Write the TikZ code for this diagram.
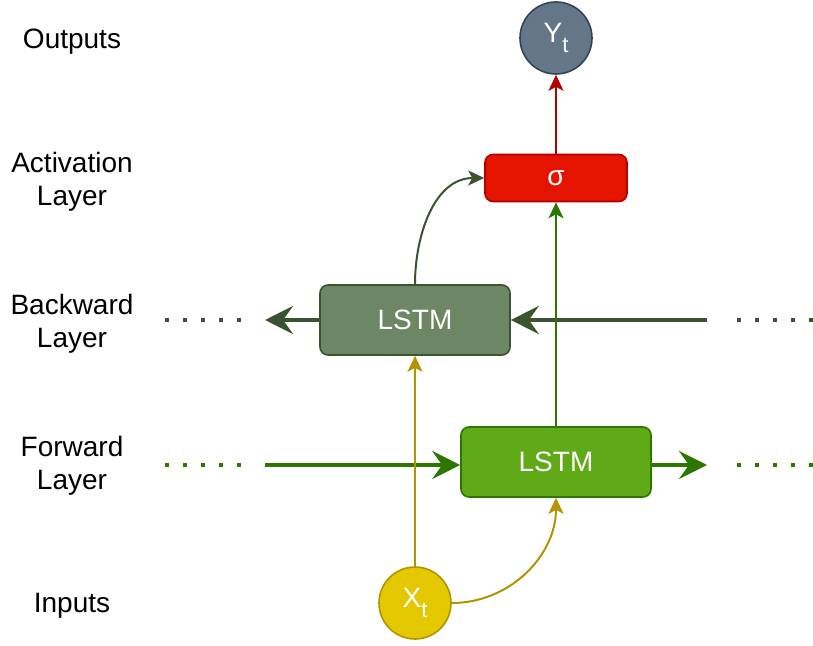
\documentclass[tikz,border=0pt]{standalone}
\usepackage{fontspec}
\setmainfont{Liberation Sans}
\usetikzlibrary{arrows.meta}
\definecolor{outfill}{HTML}{647687}
\definecolor{outline}{HTML}{314354}
\definecolor{actfill}{HTML}{E51400}
\definecolor{actline}{HTML}{B20000}
\definecolor{bwdfill}{HTML}{6D8764}
\definecolor{bwdline}{HTML}{3A5431}
\definecolor{fwdfill}{HTML}{60A917}
\definecolor{fwdline}{HTML}{2D7600}
\definecolor{infill}{HTML}{E3C800}
\definecolor{inline}{HTML}{B09500}
\tikzset{
  layerlabel/.style={align=center, font=\fontsize{14}{16.5}\selectfont},
  cellbox/.style={draw, rounded corners=4pt, line width=0.8pt, text=white, font=\fontsize{14}{16}\selectfont},
  unit/.style={circle, draw, line width=0.8pt, minimum size=36pt, inner sep=0pt, text=white, font=\fontsize{14}{16}\selectfont},
  thin/.style={line width=1pt, -{Stealth[length=8pt,width=7.5pt,inset=2pt]}},
  thick/.style={line width=2pt, -{Stealth[length=14pt,width=14pt,inset=5pt]}},
  dots/.style={line width=2pt, dash pattern=on 2pt off 7pt}
}
\newcommand{\sub}[1]{\raisebox{-0.35em}{\fontsize{11}{11}\selectfont #1}}
\begin{document}
\begin{tikzpicture}[x=0.5pt, y=-0.5pt, line join=round]
	\useasboundingbox (0,0) rectangle (813,646);
	\path
	(165,320)coordinate(BL1)
	(244,320)coordinate(BL2)
	(265,320)coordinate(BA)
	(707,320)coordinate(BR)
	(737,320)coordinate(BR1)
	(813,320)coordinate(BR2)
	(165,465)coordinate(FL1)
	(244,465)coordinate(FL2)
	(265,465)coordinate(FA)
	(707,465)coordinate(FR)
	(737,465)coordinate(FR1)
	(813,465)coordinate(FR2)
	;
	% row labels
	\foreach \n/\y/\t in {lout/42/Outputs, lact/182/Activation\\Layer, lbwd/324/Backward\\Layer, lfwd/466/Forward\\Layer, lin/606/Inputs}
	\node[layerlabel] (\n) at (72,\y) {\t};
	% cells
	\node[unit, fill=outfill, draw=outline] (yt) at (556,38) {Y\sub{t}};
	\node[cellbox, fill=actfill, draw=actline, minimum width=71pt, minimum height=23.5pt] (sig) at (556,178) {σ};
	\node[cellbox, fill=bwdfill, draw=bwdline, minimum width=95pt, minimum height=35pt] (bwd) at (415,320) {LSTM};
	\node[cellbox, fill=fwdfill, draw=fwdline, minimum width=95pt, minimum height=35pt] (fwd) at (556,462) {LSTM};
	\node[unit, fill=infill, draw=inline] (xt) at (415,603) {X\sub{t}};
	% recurrent links
	\draw[dots, draw=bwdline] (BL1)--(BL2) (BR1)--(BR2);
	\draw[dots, draw=fwdline] (FL1)--(FL2) (FR1)--(FR2);
	\draw[thick, draw=bwdline] (BR)--(bwd.east);
	\draw[thick, draw=bwdline] (bwd.west)--(BA);
	\draw[thick, draw=fwdline] (FA)--(fwd.west|-FA);
	\draw[thick, draw=fwdline] (fwd.east|-FR)--(FR);
	% layer to layer
	\draw[thin, draw=fwdline] (fwd.north)--(sig.south);
	\draw[thin, draw=bwdline] (bwd.north) to[out=90,in=180] (sig.west);
	\draw[thin, draw=actline] (sig.north)--(yt.south);
	\draw[thin, draw=inline] (xt.north)--(bwd.south);
	\draw[thin, draw=inline] (xt.east) to[out=0,in=-90] (fwd.south);
\end{tikzpicture}
\end{document}
